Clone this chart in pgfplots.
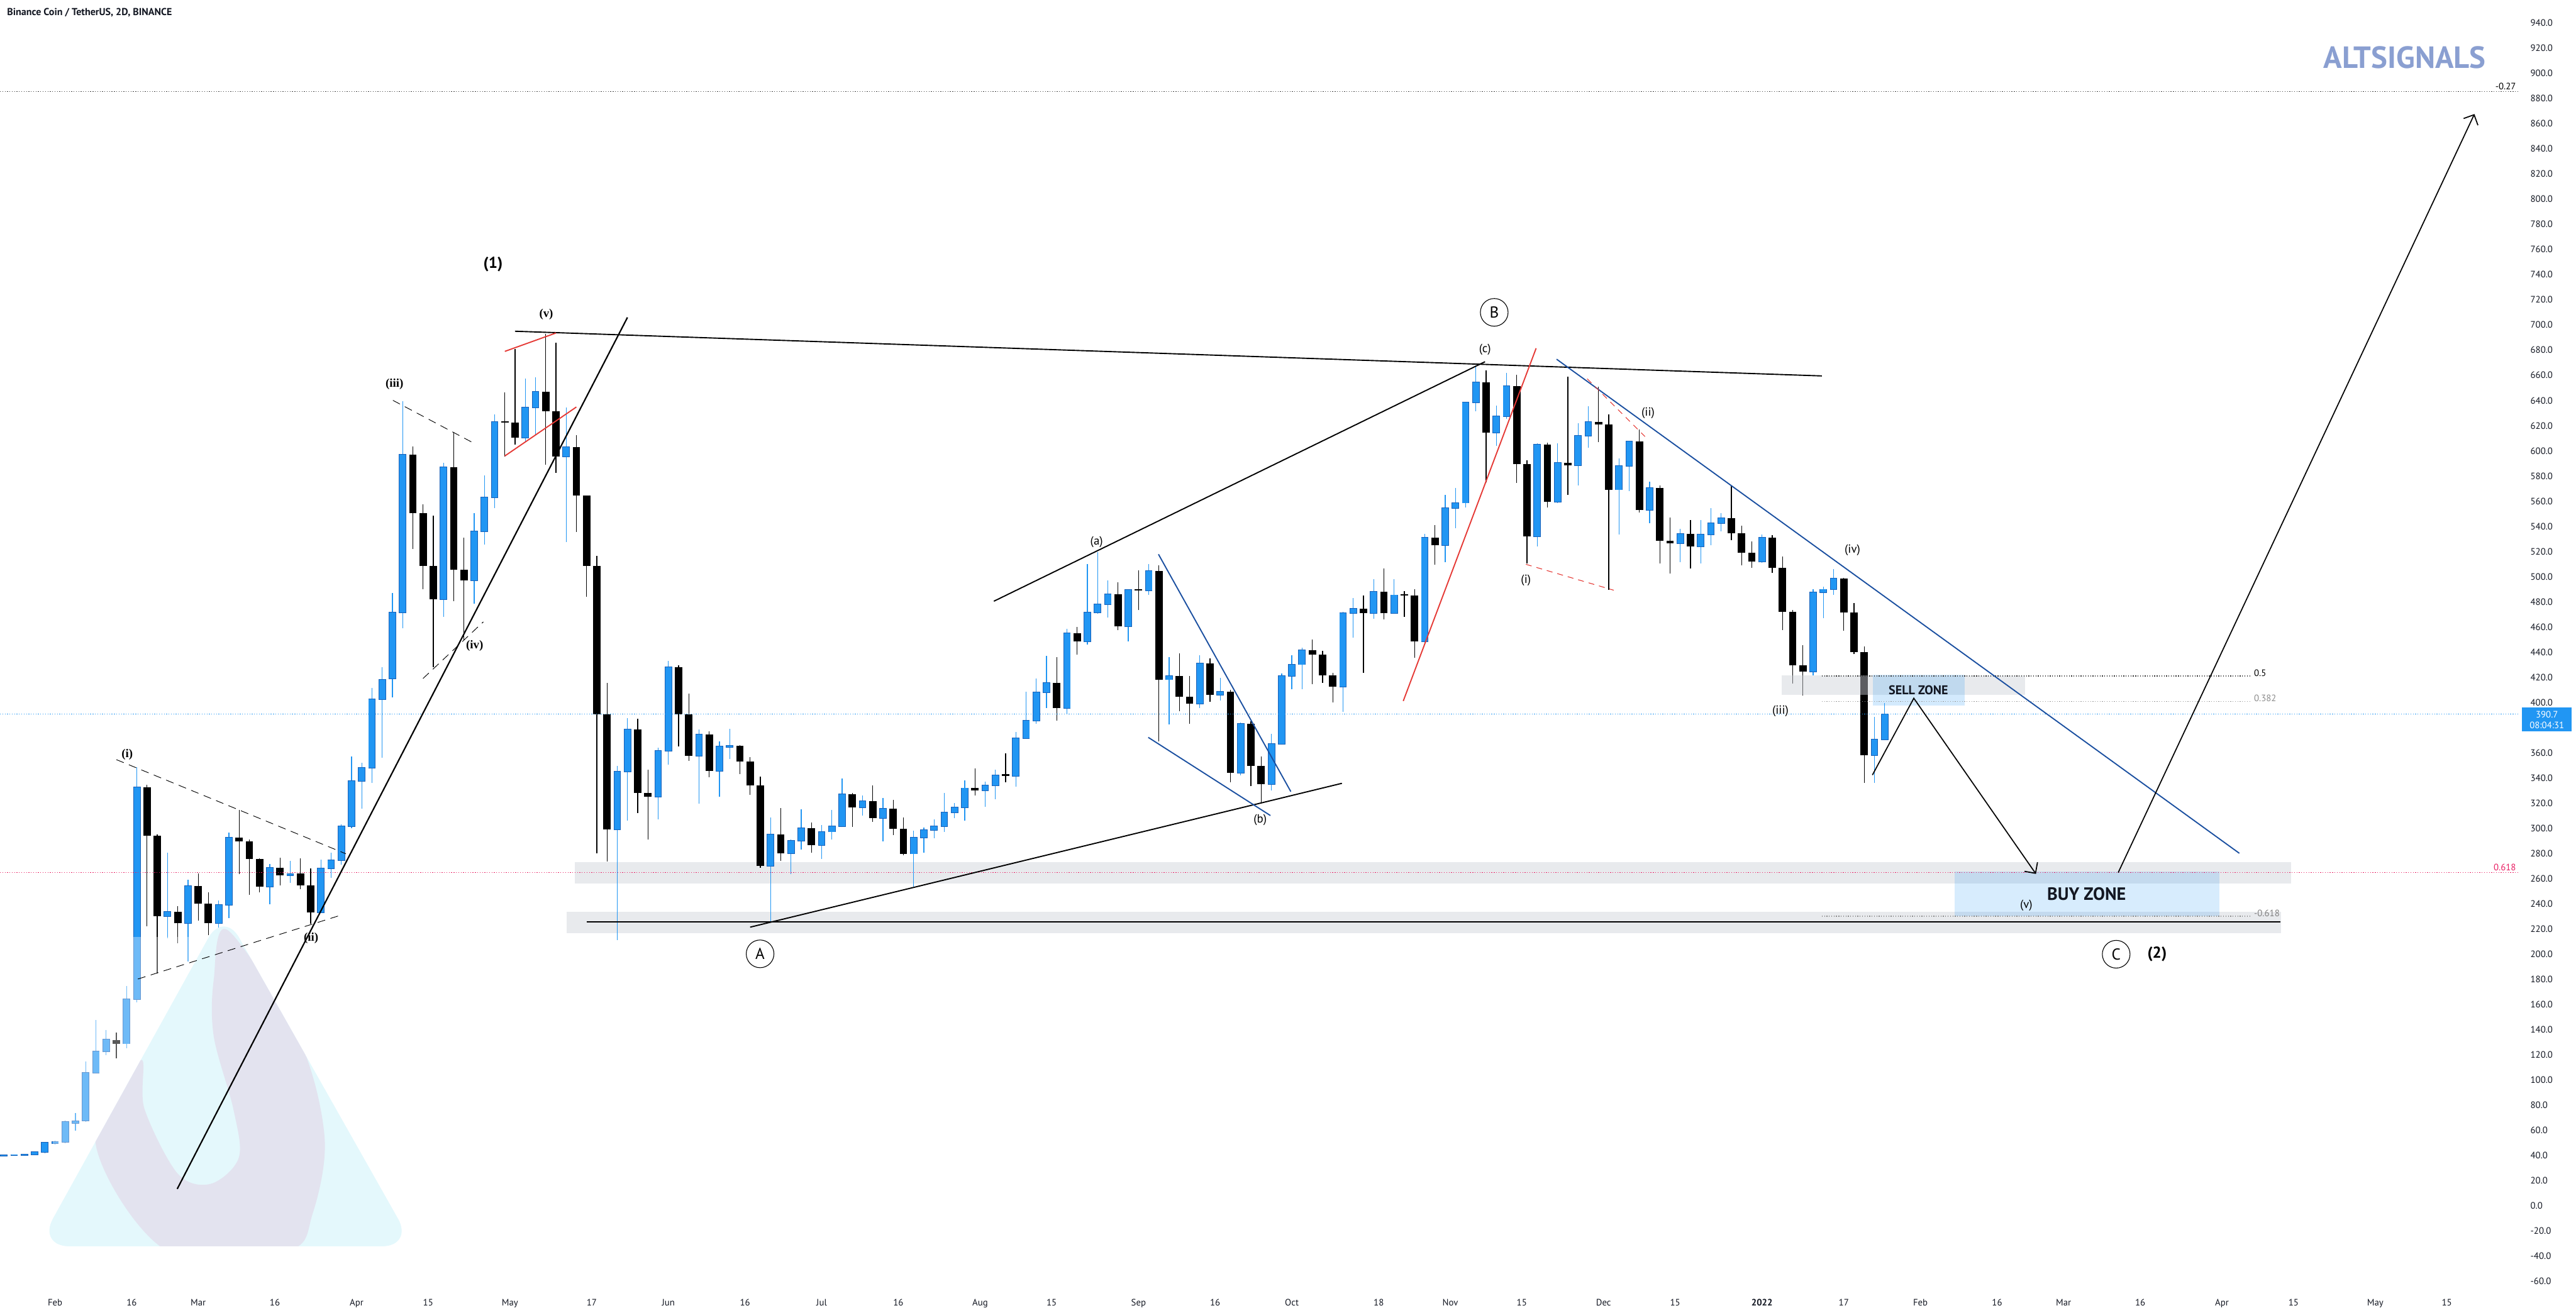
\documentclass[border=0pt]{standalone}
\usepackage{pgfplots}
\pgfplotsset{compat=1.18}
\usepackage{pgfplotstable}
\usepackage{fontspec}
\setmainfont{PT Sans}
\newfontfamily\serifb{Liberation Serif}
\usetikzlibrary{arrows.meta}

\definecolor{upc}{HTML}{2196F3}
\definecolor{upb}{HTML}{1860B8}
\definecolor{fibred}{HTML}{E91E63}
\definecolor{chanblue}{HTML}{1A4FA0}
\definecolor{zonegrey}{HTML}{CDD0D8}
\definecolor{logocyan}{HTML}{E4F8FC}
\definecolor{logogrey}{HTML}{E3E3EF}
\definecolor{altsig}{HTML}{8A9FD1}
\definecolor{txt}{HTML}{131722}
\definecolor{redline}{HTML}{E53935}

% 2D candles, x = day of year 2021 (Jan 1 = 0)
\pgfplotstableread{
d o h l c
21 39.8 40.6 39.5 40.3
23 40.2 41 39.8 40.6
25 40.3 41 39.6 40.7
27 41 43.3 40.5 43
29 43 51 42 50.4
31 50 51.7 48.6 51
33 51 68 50 66.8
35 66 73.8 60 67.5
37 68 115 67 106
39 106 147.6 106 122.6
41 122.6 139.9 120 132.2
45 129 174.9 125.2 164.3
47 164.3 348.8 162 332.8
53 230.4 280.8 212.5 233.6
57 224.6 259.3 194.2 254.2
63 224.6 242.9 218.9 239.1
65 239.1 296.8 228.5 292.7
73 253.8 271.8 239.7 268.9
77 262.5 274 256.7 263.5
83 233 275 233 268.3
85 268.3 280.8 260.6 274.7
87 274.7 303 271.2 301.6
89 301.6 356.9 300 337.6
91 337.6 352 315.8 348.2
93 348.2 411.7 336 402.7
95 402.7 428 356.2 418.1
97 419 487 404 471.5
99 471.5 639.3 458.8 597.2
107 482.1 590.3 468.1 587.2
113 497.2 550.4 478.6 535.8
115 535.8 580.6 525.5 563.1
117 563.1 628.7 554.6 622.9
123 610.2 657.3 607.6 634.6
125 634.6 658.6 612.8 646.7
131 595.6 634.3 527.6 603
141 299.1 349.4 211.3 345
143 345 387.8 306.4 378.5
149 325.3 363.9 307.2 361.6
151 361.6 432.9 350.6 427.9
157 357.8 378.5 319.5 374.7
161 345.6 368.9 325.3 365.1
163 364.5 379.1 354.9 365.7
171 270 308.7 225.8 295.3
175 280.2 291 263.7 290.1
177 290.1 315.3 283.3 300.3
181 286.7 302.9 275.9 297.4
183 297.4 314.5 291 301.5
185 301.5 339.5 301 327.1
189 316.5 326.2 310.2 321.6
193 308.3 324.2 289.8 315.7
199 279.9 298.3 253.5 292.7
201 292.7 300.8 280.7 298.6
203 298.6 307.2 292.1 301.7
205 301.7 328 297.4 312.8
207 312.8 319.9 308 316.5
209 316.5 338.2 306 331.9
213 330.2 337.3 316.9 334.1
215 334.1 346.7 323.3 342.1
219 341.8 376.5 333.1 371.6
221 371.6 408.6 371.1 385.6
223 385.6 419.1 383 408.2
225 408.2 437.2 395.8 415.4
229 395.8 458.4 391 454.9
233 448.6 510 446.1 471.5
235 471.5 519.4 470.4 478
237 478 497.1 467.4 486.2
241 460.3 490.2 448.5 489.4
245 489 510 485.7 504.6
249 418.3 436 382.4 421.1
255 399 437.8 395.8 431
259 406.3 419.8 401.8 408.4
263 344 384.2 342.2 383.2
269 335.3 375.2 329.9 367.1
271 367.1 423 366.5 421.2
273 421.2 437.8 410.4 430.3
275 430.3 443.8 410.8 441.8
283 412.6 471.8 392.7 470.9
285 470.9 483 451.4 474.5
289 470.9 497.8 466.7 488
293 470.9 498 470.5 485.3
299 448.7 534.1 446.9 530.8
303 524.9 565 511.5 554.6
305 554.6 570.5 538.6 558.7
307 558.7 638.9 554.9 638.4
309 638.4 667.7 631.4 654.5
313 614.3 635.9 603.8 627.6
315 627.6 662 625.6 651.4
321 531.9 606 524.1 605.1
325 559.4 605.8 558.7 590.5
329 588.3 622.1 572.5 611.8
331 611.8 635.6 602.6 623.1
337 569.2 593.8 533.6 588
339 588 608 568.2 607.6
343 552.9 575.7 542.4 570.5
349 526.6 538.1 511.6 534.1
353 524.1 544.9 510.3 533.6
355 533.6 554.4 524.8 542.4
357 542.4 550.7 536.1 546.7
365 511.8 533.6 511 531.1
375 424.6 490.2 421.6 487.7
377 487.7 492.2 467.2 489.8
379 489.8 506 485.5 498.5
387 358.1 388.7 336.1 370.7
389 370.7 399.6 370 390.7
}\candlesup

\pgfplotstableread{
d o h l c
43 132 138 117.1 129
49 332.8 334.4 222.1 294.3
51 294.3 295 184.5 230.4
55 233.6 238.4 208.6 224.6
59 254.2 264.1 226.9 240
61 240 249.3 215 224.6
67 292.7 314.5 263.8 289.5
69 289.5 291 247.1 275.7
71 275.7 276 249 253.8
75 268.9 276.9 254.5 262.5
79 264 276.3 251.6 254.8
81 254.8 268 224.3 233
101 597.2 603.6 521.8 550.4
103 550.4 557.3 490 508.6
105 508.6 548.3 428.3 482.1
109 587.2 614.2 480.5 505.6
111 505.6 530.8 449.5 497.2
119 622.9 646.2 595.6 622.3
121 622.5 681.1 604.9 610.2
127 646.7 693 589 631.6
129 631.6 685.9 582.7 595.6
133 603 612.3 535.6 564.7
135 564.7 564.7 484 508.6
137 508.6 516.6 280.2 390.7
139 390.7 415.4 273.8 299.1
145 378.5 387.2 312.2 328.2
147 328.2 346.5 291 325.3
153 427.9 429.4 365.1 390.7
155 390.7 407.3 353.5 357.8
159 374.7 377 340.7 345.6
165 365.7 366 343.3 352.9
167 352.9 356.7 326.7 334
169 334 341.3 268.6 270
173 295.3 316 274.4 280.2
179 300.3 304.6 280.7 286.7
187 327.1 328 301.2 316.5
191 321.6 334.1 305.1 308.3
195 315.7 322.8 294.7 299.8
197 299.8 308.9 278.5 279.9
211 331.9 347.7 326.2 330.2
217 342.5 359.5 336.6 341.8
227 415.4 435.9 385.6 395.8
231 454.9 459.9 438 448.6
239 486.2 495.6 457.3 460.3
243 489.4 505.1 473.3 489
247 504.6 509.1 369.3 418.3
251 421.1 439.3 393.3 404.8
253 404.8 421.1 383.2 399
257 431 435.1 400.5 406.3
261 408.4 409.9 336.8 344
265 383.2 385 333.5 349.4
267 349.4 357.2 320.2 335.3
277 441.8 449.9 414.7 438.2
279 438.2 441.1 415.8 421.6
281 421.6 423.8 399.9 412.6
287 474.5 485.1 423.4 470.9
291 488 506.4 466.2 470.9
295 485.3 488.7 468.2 485
297 485 490.2 435.5 448.7
301 530.8 541.1 509.5 524.9
311 654.5 664 575 614.3
317 651.4 660.2 574.5 589.5
319 589.5 592.5 510.3 531.9
323 605.1 606.3 554.9 559.4
327 590.5 659 564.9 588.3
333 623.1 650.7 606.8 620.9
335 620.9 628.9 489.7 569.2
341 607.6 616.8 551.2 552.9
345 570.5 572.5 510.3 528.6
347 528.6 547.2 502.3 526.6
351 534.1 544.9 506.5 524.1
359 546.7 572.5 529.1 534.4
361 534.4 540.6 509 519.1
363 519.1 528.1 506.8 511.8
367 531.1 533.1 502.8 506.8
369 506.8 516.1 457.6 472.2
371 472.2 473.4 415 429.6
373 429.6 445.4 405.8 424.6
381 498.5 499 457.2 471.4
383 471.4 479 438.4 440.1
385 440.1 444.6 336.1 358.1
}\candlesdown

\begin{document}
\begin{tikzpicture}[
  wave/.style={font=\fontsize{6}{7}\selectfont, text=black, inner sep=0pt},
  wavebold/.style={font=\serifb\bfseries\fontsize{6}{7}\selectfont, text=black, inner sep=0pt},
  circ/.style={draw=black, circle, line width=0.35pt, minimum size=14pt, inner sep=0pt, font=\fontsize{8}{9}\selectfont},
  dotl/.style={line width=0.4pt, dash pattern=on 0.4pt off 0.8pt},
  fibl/.style={font=\fontsize{4.7}{5}\selectfont, inner sep=0pt}
]
\begin{axis}[
  at={(0,0)}, anchor=north west,
  width=1273pt, height=652.4pt, scale only axis,
  xmin=20.22, xmax=513.2, ymin=-67.6, ymax=958.2,
  axis line style={draw=none},
  major tick length=0pt,
  /pgf/number format/assume math mode=true,
  tick label style={font=\fontsize{4.7}{5}\selectfont, text=txt},
  % 380.0 sits under the price tag in the reference
  ytick={-60,-40,...,360,400,420,...,940},
  yticklabel pos=right,
  yticklabel style={anchor=west, xshift=5.4pt, inner sep=0pt,
    /pgf/number format/.cd, fixed, fixed zerofill, precision=1, 1000 sep={}},
  xtick={31,46,59,74,90,104,120,136,151,166,181,196,212,226,243,258,273,290,304,318,334,348,365,381,396,411,424,439,455,469,485,499},
  xticklabels={Feb,16,Mar,16,Apr,15,May,17,Jun,16,Jul,16,Aug,15,Sep,16,Oct,18,Nov,15,Dec,15,\textbf{2022},17,Feb,16,Mar,16,Apr,15,May,15},
  xticklabel style={anchor=base, yshift=-7.3pt, inner sep=0pt},
]

% grey zones behind
\fill[zonegrey, opacity=0.45] (axis cs:132.7,256.4) rectangle (axis cs:468.5,273.1);
\fill[zonegrey, opacity=0.45] (axis cs:131.1,216.6) rectangle (axis cs:466.5,233.6);

% wicks
\addplot[upc, line width=0.4pt, quiver={u=0, v={\thisrow{h}-\thisrow{l}}}] table[x=d, y=l] {\candlesup};
\addplot[black, line width=0.4pt, quiver={u=0, v={\thisrow{h}-\thisrow{l}}}] table[x=d, y=l] {\candlesdown};
% bodies
\addplot[upb, line width=3.74pt, quiver={u=0, v={\thisrow{c}-\thisrow{o}+0.94}}] table[x=d, y expr=\thisrow{o}-0.47] {\candlesup};
\addplot[upc, line width=3.14pt, quiver={u=0, v={max(\thisrow{c}-\thisrow{o},0.3)}}] table[x=d, y=o] {\candlesup};
\addplot[black, line width=3.74pt, quiver={u=0, v={max(\thisrow{o}-\thisrow{c},1.2)}}] table[x=d, y=c] {\candlesdown};

% watermark logo
\begin{scope}[shift={(axis cs:20.22,958.2)}]
  \fill[white, opacity=0.35] (26.6pt,-473.6pt) rectangle (202.8pt,-636pt);
  \fill[logocyan, rounded corners=16pt] (19pt,-629.8pt) -- (113pt,-460pt) -- (209pt,-629.8pt) -- cycle;
  \begin{scope}
    \clip[rounded corners=16pt] (19pt,-629.8pt) -- (113pt,-460pt) -- (209pt,-629.8pt) -- cycle;
    \fill[logogrey] plot[smooth cycle, tension=0.55] coordinates {
      (115.0pt,-470pt) (150.9pt,-524.7pt) (164.0pt,-574.7pt) (157.9pt,-613.5pt)
      (145.3pt,-632pt) (84.2pt,-632pt) (48.3pt,-577.8pt) (70.9pt,-535.9pt)
      (73.0pt,-560.4pt) (89.8pt,-593.1pt) (106.6pt,-598.2pt) (120.7pt,-584.9pt)
      (117.9pt,-560.4pt) (108.0pt,-523.7pt) (108.0pt,-495.1pt)};
  \end{scope}
\end{scope}

% zones
\fill[zonegrey, opacity=0.45] (axis cs:368.9,406.3) rectangle (axis cs:416.5,421.4);
\fill[upc, opacity=0.2] (axis cs:386.7,397.8) rectangle (axis cs:404.6,422.3);
\fill[upc, opacity=0.18] (axis cs:402.7,230.2) rectangle (axis cs:454.5,265.9);

% fib and price levels
\draw[dotl, black!75] (axis cs:20.22,885.5) -- (axis cs:513.2,885.5);
\node[fibl, anchor=south east, text=black] at (axis cs:512.6,886.8) {-0.27};
\draw[dotl, fibred] (axis cs:20.22,264.9) -- (axis cs:513.2,264.9);
\node[fibl, anchor=south east, text=fibred] at (axis cs:512.6,266.2) {0.618};
\draw[dotl, upc] (axis cs:20.22,390.7) -- (axis cs:513.2,390.7);
\draw[dotl, black!80] (axis cs:376.7,421.1) -- (axis cs:460.5,421.1);
\node[fibl, anchor=south west, text=black] at (axis cs:461.2,420.4) {0.5};
\draw[dotl, black!40] (axis cs:376.7,401.0) -- (axis cs:460.5,401.0);
\node[fibl, anchor=south west, text=black!45] at (axis cs:461.2,400.3) {0.382};
\draw[dotl, black!45] (axis cs:376.7,230.2) -- (axis cs:460.5,230.2);
\node[fibl, anchor=south west, text=black!50] at (axis cs:461.2,229.5) {-0.618};

% trend lines
\draw[black, line width=0.7pt] (axis cs:54.9,13.5) -- (axis cs:143,706);
\draw[black, line width=0.6pt] (axis cs:121,695) -- (axis cs:376.7,659.5);
\draw[black, line width=0.6pt] (axis cs:214.7,480.5) -- (axis cs:310.8,670.8);
\draw[black, line width=0.6pt] (axis cs:167,221.5) -- (axis cs:282.8,335.8);
\draw[black, line width=0.8pt] (axis cs:135.0,225.8) -- (axis cs:466.4,225.8);
\draw[chanblue, line width=0.6pt] (axis cs:246.9,517.8) -- (axis cs:272.8,329.2);
\draw[chanblue, line width=0.6pt] (axis cs:244.9,372.3) -- (axis cs:268.8,310.2);
\draw[chanblue, line width=0.6pt] (axis cs:324.8,672.8) -- (axis cs:458.4,280.2);
\draw[redline, line width=0.6pt] (axis cs:119,679) -- (axis cs:129,693.6);
\draw[redline, line width=0.6pt] (axis cs:119,595.9) -- (axis cs:133,634.8);
\draw[redline, line width=0.6pt] (axis cs:294.8,401.2) -- (axis cs:320.8,681.5);
\draw[redline, line width=0.35pt, dash pattern=on 3pt off 2.5pt] (axis cs:330.8,657.2) -- (axis cs:342.1,611.3);
\draw[redline, line width=0.35pt, dash pattern=on 3pt off 2.5pt] (axis cs:318.8,509.8) -- (axis cs:336,489.2);
\draw[black, line width=0.3pt, dash pattern=on 4pt off 2.8pt] (axis cs:43,354.6) -- (axis cs:87.9,279.8);
\draw[black, line width=0.3pt, dash pattern=on 4pt off 2.8pt] (axis cs:47.2,180.3) -- (axis cs:86.96,231.1);
\draw[black, line width=0.3pt, dash pattern=on 4pt off 2.8pt] (axis cs:97.1,640.1) -- (axis cs:113.1,605.7);
\draw[black, line width=0.3pt, dash pattern=on 4pt off 2.8pt] (axis cs:103,419.1) -- (axis cs:114.8,464.1);

% projected path
\draw[black, line width=0.55pt, -{Straight Barb[length=4pt, width=8pt]}]
  (axis cs:386.6,342.4) -- (axis cs:394.7,403.4) -- (axis cs:418.6,263.8);
\draw[black, line width=0.55pt, -{Straight Barb[length=4pt, width=8pt]}]
  (axis cs:434.7,264.9) -- (axis cs:504.4,867.6);

% zone text
\node[font=\bfseries\fontsize{6.4}{7}\selectfont, text=txt] at (axis cs:395.6,409.7) {SELL ZONE};
\node[font=\bfseries\fontsize{9}{10}\selectfont, text=txt] at (axis cs:428.5,247.8) {BUY ZONE};

% wave labels
\node[font=\bfseries\fontsize{8}{9}\selectfont] at (axis cs:116.7,748) {(1)};
\node[wavebold] at (axis cs:127.1,708.2) {(v)};
\node[wavebold] at (axis cs:97.4,652.8) {(iii)};
\node[wavebold] at (axis cs:113.1,445) {(iv)};
\node[wavebold] at (axis cs:45.1,358.5) {(i)};
\node[wavebold] at (axis cs:81.1,212.5) {(ii)};
\node[circ] at (axis cs:168.95,200.3) {A};
\node[wave] at (axis cs:234.8,527.4) {(a)};
\node[wave] at (axis cs:266.8,306.6) {(b)};
\node[circ] at (axis cs:312.6,710) {B};
\node[wave] at (axis cs:310.8,680.3) {(c)};
\node[wave] at (axis cs:318.8,497.3) {(i)};
\node[wave] at (axis cs:342.7,630.2) {(ii)};
\node[wave] at (axis cs:368.6,393.2) {(iii)};
\node[wave] at (axis cs:382.7,521.1) {(iv)};
\node[wave] at (axis cs:416.7,238.6) {(v)};
\node[circ] at (axis cs:434.3,200) {C};
\node[font=\bfseries\fontsize{8}{9}\selectfont] at (axis cs:442.3,200) {(2)};
\end{axis}

% header, watermark text, price tag
\node[anchor=west, inner sep=0pt, font=\bfseries\fontsize{5.1}{6}\selectfont, text=txt] at (3.4pt,-6.5pt) {Binance Coin / TetherUS, 2D, BINANCE};
\node[inner sep=0pt, font=\bfseries\fontsize{15.5}{16}\selectfont, text=altsig] at (1215pt,-29.2pt) {ALTSIGNALS};
\fill[upc] (1274.4pt,-357.4pt) rectangle (1299.4pt,-369.7pt);
\node[inner sep=0pt, font=\fontsize{4.7}{5}\selectfont, text=white] at (1286.9pt,-361pt) {390.7};
\node[inner sep=0pt, font=\fontsize{4.7}{5}\selectfont, text=white] at (1286.9pt,-366.6pt) {08:04:31};

\pgfresetboundingbox
\useasboundingbox (0,0) rectangle (1301.6pt,-663.2pt);
\end{tikzpicture}
\end{document}
